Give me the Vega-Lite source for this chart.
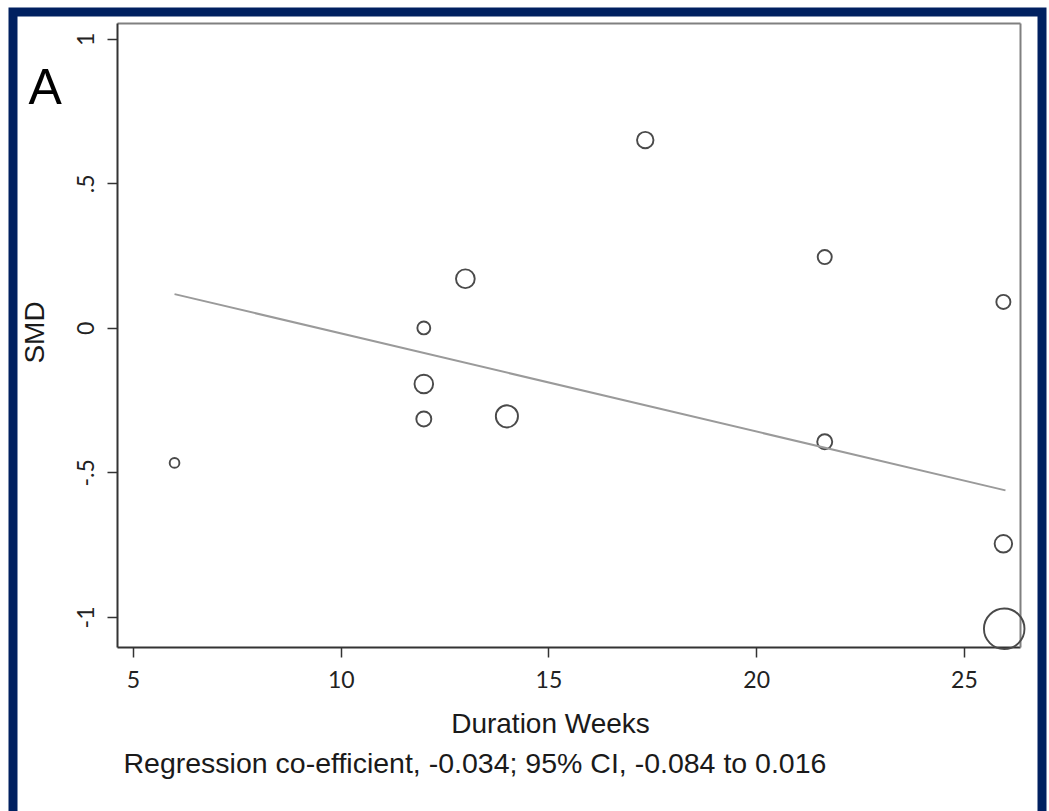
{
  "$schema": "https://vega.github.io/schema/vega-lite/v6.json",
  "width": 1029,
  "height": 805,
  "autosize": {"type": "none"},
  "padding": {"left": 13, "top": 12, "right": 7, "bottom": -6},
  "background": "white",
  "config": {
    "view": {"stroke": "#002060", "strokeWidth": 9, "fill": "white"},
    "axis": {"grid": false, "titleFontWeight": "normal", "labelOverlap": false, "labelFlush": false, "titleLimit": 2000, "labelLimit": 500}
  },
  "datasets": {
    "studies": [
      {"duration": 6, "smd": -0.467, "weight": 21},
      {"duration": 12, "smd": 0.0, "weight": 37},
      {"duration": 12, "smd": -0.194, "weight": 77},
      {"duration": 12, "smd": -0.315, "weight": 50},
      {"duration": 13, "smd": 0.17, "weight": 78},
      {"duration": 14, "smd": -0.306, "weight": 109},
      {"duration": 17.33, "smd": 0.65, "weight": 60},
      {"duration": 21.65, "smd": 0.245, "weight": 44},
      {"duration": 21.65, "smd": -0.394, "weight": 50},
      {"duration": 25.95, "smd": 0.09, "weight": 44},
      {"duration": 25.95, "smd": -0.747, "weight": 68},
      {"duration": 25.97, "smd": -1.041, "weight": 365}
    ],
    "fit": [
      {"duration": 6, "smd": 0.117},
      {"duration": 26, "smd": -0.562}
    ]
  },
  "resolve": {"axis": {"x": "independent", "y": "independent"}},
  "layer": [
    {
      "data": {"name": "studies"},
      "mark": {"type": "point", "shape": "circle", "filled": false, "color": "#4a4a4a", "strokeWidth": 1.9, "opacity": 1},
      "encoding": {
        "x": {
          "field": "duration", "type": "quantitative",
          "scale": {"domain": [4.615, 26.35], "range": [104, 1007], "nice": false, "zero": false},
          "axis": {
            "orient": "bottom", "offset": -170, "values": [5, 10, 15, 20, 25],
            "domainColor": "#333333", "domainWidth": 2,
            "tickColor": "#333333", "tickWidth": 1.5, "tickSize": 10,
            "labelFont": "Lato", "labelFontSize": 23, "labelColor": "#222222",
            "labelBaseline": "alphabetic", "labelPadding": 30,
            "title": "Duration Weeks", "titleFont": "Liberation Sans", "titleFontSize": 28, "titleColor": "#1a1a1a",
            "titleAlign": "center", "titleBaseline": "alphabetic", "titleX": 537, "titleY": 85
          }
        },
        "y": {
          "field": "smd", "type": "quantitative",
          "scale": {"domain": [-1.104, 1.055], "range": [635, 11], "nice": false, "zero": false},
          "axis": {
            "orient": "left", "offset": -104, "values": [-1, -0.5, 0, 0.5, 1],
            "labelExpr": "datum.value == 1 ? '1' : datum.value == 0.5 ? '.5' : datum.value == 0 ? '0' : datum.value == -0.5 ? '-.5' : '-1'",
            "domainColor": "#333333", "domainWidth": 2,
            "tickColor": "#333333", "tickWidth": 1.5, "tickSize": 10,
            "labelFont": "Lato", "labelFontSize": 23, "labelColor": "#222222",
            "labelAngle": 270, "labelAlign": "center", "labelBaseline": "alphabetic", "labelPadding": 14,
            "title": "SMD", "titleFont": "Liberation Sans", "titleFontSize": 28, "titleColor": "#1a1a1a",
            "titleAngle": 270, "titleAlign": "center", "titleBaseline": "alphabetic", "titleX": -74, "titleY": 320
          }
        },
        "size": {
          "field": "weight", "type": "quantitative",
          "scale": {"type": "linear", "domain": [0, 100], "range": [0, 450], "zero": true},
          "legend": null
        }
      }
    },
    {
      "data": {"name": "fit"},
      "mark": {"type": "line", "color": "#9a9a9a", "strokeWidth": 2},
      "encoding": {
        "x": {
          "field": "duration", "type": "quantitative",
          "scale": {"domain": [4.615, 26.35], "range": [104, 1007], "nice": false, "zero": false},
          "axis": {
            "orient": "top", "offset": -11, "domainColor": "#808080", "domainWidth": 2,
            "ticks": false, "labels": false,
            "title": "A", "titleFont": "Liberation Sans", "titleFontSize": 50, "titleColor": "#000000",
            "titleAngle": 0, "titleAlign": "left", "titleBaseline": "alphabetic", "titleX": 15, "titleY": 80
          }
        },
        "y": {
          "field": "smd", "type": "quantitative",
          "scale": {"domain": [-1.104, 1.055], "range": [635, 11], "nice": false, "zero": false},
          "axis": {
            "orient": "right", "offset": -22, "domainColor": "#808080", "domainWidth": 2,
            "ticks": false, "labels": false,
            "title": "Regression co-efficient, -0.034; 95% CI, -0.084 to 0.016",
            "titleFont": "Liberation Sans", "titleFontSize": 28.5, "titleColor": "#1a1a1a",
            "titleAngle": 0, "titleAlign": "left", "titleBaseline": "alphabetic", "titleX": -897, "titleY": 760
          }
        }
      }
    }
  ]
}
